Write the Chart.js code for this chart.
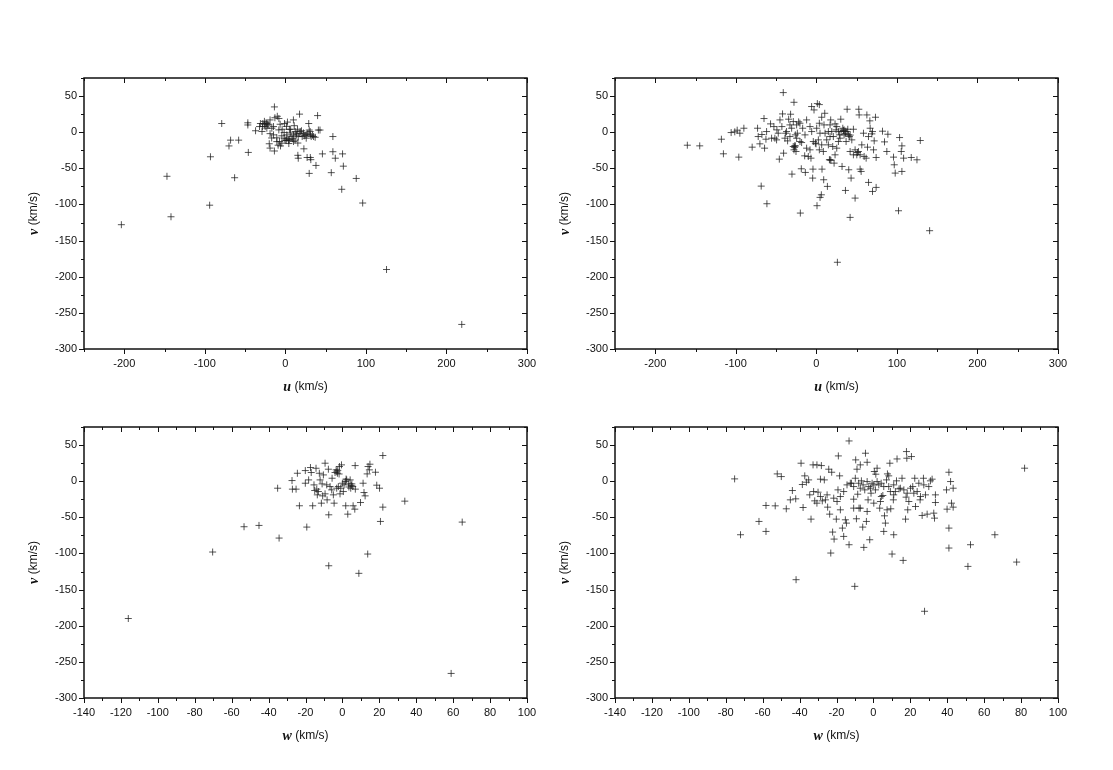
<!DOCTYPE html>
<html>
<head>
<meta charset="utf-8">
<script src="https://cdn.jsdelivr.net/npm/chart.js@4.4.1/dist/chart.umd.min.js"></script>
<style>
  body { margin: 0; background: #fff; }
  #wrap { position: relative; width: 1113px; height: 770px; }
  .panel { position: absolute; width: 556px; height: 370px; }
</style>
</head>
<body>
<div id="wrap">
  <div class="panel" style="left:0px;top:40px"><canvas id="c1"></canvas></div>
  <div class="panel" style="left:531px;top:40px"><canvas id="c2"></canvas></div>
  <div class="panel" style="left:0px;top:389px"><canvas id="c3"></canvas></div>
  <div class="panel" style="left:531px;top:389px"><canvas id="c4"></canvas></div>
</div>
<script>
// axis ticks
var uTicks = [-200, -100, 0, 100, 200, 300]
var wTicks = [-140, -120, -100, -80, -60, -40, -20, 0, 20, 40, 60, 80, 100]
var vTicks = [50, 0, -50, -100, -150, -200, -250, -300]

// top left: u vs v (sample 1)
var u1 = [-203.6, -147, -142, -94, -93, -63, -79, -68, -58, -70, -46.6, -46.6, -46, -37, -31, -28, -26, -23, -20.5, -19,
  -13.6, -13, -10, -8, -6.5, -29, -19, -17, -20, -19, -13.6, -10.6, -9, -6, -4.4, -1, 1.4, 2.6, 10, 11,
  17.6, 6.5, 6, 5, -0.3, 2, 5, 9, 12, 14, 16, 18, 20, 22.5, 24.6, 26.7, 29, 29.6, 31, 35,
  37, 41, 40, 43, 15.5, 15.5, 16, 23, 27, 31, 31.6, 29.6, 38, 46, 59, 59, 62, 71, 72, 57,
  70, 88, 96, 125.6, 219, -7.3, -4.4, -1.5, 1, 3.9, 7.2, 10.1, 12.2, 13.4, 15.1, 18.4, 20.9, 23.4, 25.9, 27.9,
  30.8, 32.1, 33.7, 10.1, 4.3, -10.6, -14.7, -8.1, -4, -1.5, 1.8, -23, -25.1, -28.4, -32.1, -16.8, -14.7, -24, -22, -26]
var v1 = [-128, -61, -117, -101, -34, -63, 12, -11, -11, -19, 13, 10, -28, 2, 12, 12, 15, 12, 11, 17,
  35, 20, 22, 19, 11, 1, -2, -8, -16, -22, -26, -13, -18, -19, -5, 12, 8, 14, 17, 9,
  25, 4, -1, 4, -11, -9, -10, -9, -11, -4, -6, -2, 2, -1, -4, -3, 12, 3, -4, -6,
  -7, 3, 23, 3, -15, -32, -36, -23, -35, -35, -38, -57, -46, -30, -6, -27, -36, -30, -47, -56,
  -79, -64, -98, -190, -266, -12.9, -15.2, -8.3, -11.5, -11.5, -6, -3.7, 0.9, -1.4, 4.1, 0.9, -6, -5.1, -8.3, -1.4,
  0.9, -6, -4.1, -12.9, -15.7, -7.8, -3.7, 3.2, 4.1, -0.5, -3.7, 5.5, 7.8, 7.8, 7.8, 5.5, 7.8, 13, 10, 11]

// top right: u vs v (sample 2)
var u2 = [-160.2, -144.8, -117.9, -115.4, -105.8, -101.3, -98.3, -95, -90, -96.3, -79.7, -73, -72.2, -70.1, -67.6, -65, -64.3, -62.6, -61.8, -68.5,
  -61.4, -56.9, -52.7, -51.5, -49, -46, -45.2, -42.8, -42, -41.1, -40.7, -38.2, -35.7, -34.4, -32, -30.3, -28.6, -27.8, -27, -26.1,
  -25.3, -23.6, -22, -20.3, -18.7, -17, -14.5, -13.7, -19.9, -6.7, -5.9, -4.6, -4.2, -2.9, -1.2, 0.4, 1.2, 3.7, 3.7, 4.6,
  0.8, 6.2, 7, 9.1, 10.4, 12.8, 13.7, 16.2, 17.8, 21.1, 22, 23.2, 24.5, 26.1, 27.4, 29.4, 30.3, 31.9, 32.8, 34.4,
  36.1, 38.2, 40.2, 41.9, 41.9, 43.1, 46, 48.1, 51, 52.7, 53.1, 54.3, 55.6, 58.5, 61.8, 62.7, 63.5, 64.8, 66.4, 69.7,
  69.7, 71.8, 73.4, 74.2, 74.2, 82.1, 84.6, 87.5, 88.8, 95.8, 96.7, 97.9, 102, 103.3, 105.4, 106.2, 106.2, 108.3, 117.8, 124.9,
  129, 140.6, -55.6, -49.4, -47.3, -39, -37, -32.8, -28.7, -27.8, -24.5, -18.3, -14.1, -12.1, -10, -7.9, -5.8, -3.8, -0.4, 2.5,
  4.5, 6.6, 8.7, 10.8, 14.9, 17, 19.1, 20.3, 23.2, 25.3, 27.4, 28.6, 30.7, 33.6, 35.7, 36.9, 39, 39.8, 41, 44,
  46, 48.1, 50.2, 52.2, 54.3, 56.4, 59.3, 64.7, 66.8, 68.9, 71, -32.8, -30.7, -24.5, -20.4, -12.1, -7.9, 3.7, 6.6, 9.5,
  14.9, 17, 25.3, 34.4, -27, -26, 17, 18, 36, 38, 42]
var v2 = [-18, -18.9, -9.7, -29.9, -0.5, 0.5, 2.8, -1.4, 5.5, -34.5, -20.7, 5.5, -6, -16.1, -3.2, 18.9, -22.1, -9.7, 0.9, -74.6,
  -99, 11.5, 7.8, -8.3, 3.2, -37.3, 17, 7.8, 25.3, 54.8, -29, -1.4, -12, 18, 24.9, -58, 14.7, 41.4, -18.9, -3.7,
  -26.7, -1.4, 14.3, -12.9, -50.6, 5.5, -32.7, -55.7, -111.9, -35.9, 35.5, -63.5, -51.1, 30.8, -15.2, 5.5, 39.6, 38.2, -24.4, -90.2,
  -101.7, -86.6, -51.1, -65.8, 26.2, -10.6, -75, -38.2, 17, -6, -42.8, 11.5, 3.2, -180, -12.9, -8.3, 18, -47.4, 5.5, -3.7,
  -80.6, 31.8, -52, -26.7, -117.9, -63.5, 4.1, -91.2, -28.1, 31.8, 23.9, -51.1, -54.3, -1.4, -35.9, 23.9, -20.7, -69.5, 15.7, 0.9,
  -82, -12, 20.7, -76.4, -35, 1.4, -13.4, -26.7, -2.8, -34.5, -45.1, -56.6, -108.7, -7.4, -26.7, -18.9, -54.3, -35.9, -35, -38.2,
  -11.5, -136.3, -8.3, -10.6, -1.4, -8.3, 0.9, -6, -19.8, -24.4, -8.3, -14.3, -3.7, -22.1, -33.6, -24.4, 0.9, -12.9, -16.1, -10.6,
  -1.4, -17.5, -26.7, -1.4, -17.5, -6, 0.9, -19.8, -31.3, -22.1, 0.9, -3.7, 0.9, 2.3, 0.9, -12.9, 4.1, -3.7, -6, -10.6,
  -31.3, -24.4, -31.3, -26.7, -31.3, -17.5, -33.6, -6, 5.5, -2.3, -24.4, 10.1, 5.5, 10.1, 12.4, 17, 7.8, 12.4, 20.7, 10.1,
  0.9, 10.1, 7.8, 3.2, -21, -19, -38, -39, -2, 1, -4]

// bottom left: w vs v (sample 1)
var w3 = [-116, -70.3, -53.3, -45.2, -34.3, -19.3, -7.4, 8.9, 13.7, 64.9, 58.9, 33.8, 21.9, 20.6, 21.9, -35.1, -27.3, -27.1, -25.1, -24.4,
  -23.3, -20.1, -20.1, -18.3, -17.3, -16.9, -16.1, -15, -14.3, -13.9, -13.6, -12.5, -11.4, -11, -10.3, -9.4, -9.4, -8.3, -7.6, -7.4,
  -6.7, -5.6, -4.5, -4, -3.4, -3.1, -2.7, -1.6, -1.3, -0.5, 0, 0.5, 1.6, 1.8, 2.3, 2.9, 3.4, 4.2, 5.1, 5.8,
  6.7, 6.9, 7, 9.8, 11.2, 11.7, 13.4, 13.9, 14.6, 14.9, 17.9, 18.6, 20.1, 12.3, -12.1, -8.5, -5.8, -4.9, -2.2, -0.9,
  0.9, 4.5, 5.6, -15.4, -13, -10.7, -3, -2.5, 3.5, 4.8, -1.8, 2]
var v3 = [-190, -98, -63, -61.2, -78.7, -63.5, -117, -127.5, -100.8, -56.6, -266, -27.6, 35.5, -55.7, -35.9, -9.7, 0.9, -11, -11, 11,
  -34, 14.7, -2.8, 1.8, 18.9, 12, -34, -12.9, 17.9, -11, -18.9, 11, -30.4, -3.7, 8.7, 24.9, -17.5, -25.8, 16.6, -46.5,
  -7.4, 4.1, -30.4, 12, 15.7, -9.7, 11, 20.3, -17.5, 22.6, -2.8, -14.3, -0.5, -34, 1.8, -45.6, -3.7, 1.8, -3.7, -34,
  -38.7, 21.6, -11, -29.5, -2.8, -15.7, 10.1, 20.3, 15.7, 23.5, 12.4, -5.5, -9.7, -20.3, 1.8, -5.1, -12, -18.9, -7.4, -9.7,
  -5.1, -9.7, -7.4, -5.1, -14.3, -20.3, 13, 15, -8, -6, 10, 3]

// bottom right: w vs v (sample 2)
var w4 = [-75.2, -72, -62, -58.2, -58.2, -53.2, -52.1, -49.9, -47.2, -45, -43.9, -42.1, -41.9, -39.2, -38.5, -38.1, -37.2, -36.3, -35.1, -34.5,
  -33.8, -32.7, -31.8, -30.6, -30, -28.7, -28.2, -27.7, -26.6, -24.8, -24.2, -23.7, -23.1, -22.6, -22.1, -21.3, -20.1, -19.2, -19, -18.3,
  -17.9, -16.8, -16.1, -15.2, -14.6, -13.2, -13.2, -11.9, -10.7, -10.1, -9.6, -9.2, -8.9, -8.5, -7.8, -7.1, -6.5, -5.8, -5.2, -4.3,
  -3.8, -3.4, -2.9, -2, -1.3, -0.7, 0.5, 1.3, 2, 3.4, 4.3, 5.1, 5.6, 6, 6.5, 7.6, 8.3, 8.9, 9.4, 10.1,
  10.8, 11, 12.5, 12.8, 13.9, 15.5, 16.1, 17.4, 17.7, 17.9, 18.1, 18.6, 19.2, 20.6, 21.3, 22.4, 22.8, 24.6, 25.3, 26.4,
  27.1, 27.7, 28.2, 29.1, 30, 30.9, 31.8, 32.7, 33.1, 33.6, 33.6, 39.6, 39.9, 40.9, 40.9, 40.9, 41.8, 42.3, 43.2, 43.2,
  51.2, 52.6, 65.8, 77.6, 81.9, -12.5, -10.7, -9.8, -8, -7.1, -5.6, -4.7, -3.4, -2.5, -1.6, 0.2, 1.1, 2, 2.9, 4.2,
  5.6, 7.1, 8.3, 9.2, 11, 11.9, 14.6, 16.5, 18.3, 20.1, 21.9, 23.7, 25.5, 27.3, -17.9, -16.1, -14.3, -21.5, -25.1, -26,
  -28.7, -30.6, -32.4, -19.7, -10.7, -7.1, -3.4, 0.2, 3.8, 7.4, 11]
var v4 = [3.2, -74.1, -55.7, -33.6, -69.5, -34.1, 10.1, 6.4, -38.2, -25.8, -12.9, -24.4, -136.3, 24.9, -4.6, -36.4, 7.4, -1.4, 1.8, -18.9,
  -52.5, 22.6, -27.2, 22.6, -15.2, 2.8, 21.6, -27.2, 1.8, -35.9, 16.6, -45.6, -99.4, 12.4, -70.4, -80.1, -52.5, -12, 35, 7.4,
  -39.6, -64.9, -76.4, -53.4, -58, -87.9, 55.7, -2.8, -24.9, -145.5, 29.5, -52, 16.6, -18, -37.3, 22.6, 0.5, -63.5, -91.6, 38.7,
  -55.7, 26.2, -25.8, -81, -16.6, -2.8, 13.4, 9.7, 18, -37.3, -21.2, -19.8, -69.5, -47.9, -58, 10.1, 7.4, 24.9, -38.2, -100.8,
  -25.8, -74.1, 0.5, 30.8, -10.6, 4.1, -109.6, -52.5, -22.1, 41, 31.8, -39.6, -28.1, 34.1, -7.4, 4.1, -35, -2.8, -25.8, -47.4,
  4.1, -180, -18.9, -45.6, -7.4, 0.5, 2.8, -44.2, -51.1, -29.5, -18.9, -12, -38.7, 12.4, -64.9, -92.5, -0.5, -30.4, -9.7, -35.9,
  -117.9, -87.9, -74.1, -111.9, 18, -2.8, -7.4, 4.1, -2.8, -9.7, -5.1, -12, -0.5, -7.4, -9.7, -5.1, -12, -0.5, -5.1, -2.8,
  -7.4, 1.8, -7.4, -14.3, -5.1, -14.3, -9.7, -12, -16.6, -9.7, -16.6, -14.3, -21.2, -5.1, -21.2, -14.3, -5.1, -23.5, -18.9, -25.8,
  -21.2, -30.4, -14.3, -28.1, -37.3, -37.3, -41.9, -30.4, -28.1, -39.6, -18.9]

function zip(xs, ys) {
  var pts = []
  for (var i = 0; i < xs.length; i++) pts.push({x: xs[i], y: ys[i]})
  return pts
}

// frame, inward/outward ticks with minor ticks, and mixed-font axis titles
var framePlugin = {
  id: 'frame',
  afterDraw: function(chart) {
    var o = chart.options.plugins.frame
    var ctx = chart.ctx, a = chart.chartArea
    var xs = chart.scales.x, ys = chart.scales.y
    ctx.save()
    ctx.strokeStyle = '#111'
    ctx.lineWidth = 1.5
    ctx.strokeRect(a.left, a.top, a.right - a.left, a.bottom - a.top)
    ctx.lineWidth = 1
    ctx.beginPath()
    for (var v = xs.min; v <= xs.max + 1e-9; v += o.xMinor) {
      var px = Math.round(xs.getPixelForValue(v)) + 0.5
      var major = Math.abs(Math.round(v / o.xMajor) * o.xMajor - v) < 1e-6
      var len = major ? 5 : 3
      ctx.moveTo(px, a.bottom); ctx.lineTo(px, a.bottom + len)
      ctx.moveTo(px, a.top); ctx.lineTo(px, a.top + len)
    }
    for (var w = ys.min; w <= ys.max + 1e-9; w += o.yMinor) {
      var py = Math.round(ys.getPixelForValue(w)) + 0.5
      var majorY = Math.abs(Math.round(w / o.yMajor) * o.yMajor - w) < 1e-6
      var lenY = majorY ? 5 : 3
      ctx.moveTo(a.left, py); ctx.lineTo(a.left - lenY, py)
      ctx.moveTo(a.right, py); ctx.lineTo(a.right - lenY, py)
    }
    ctx.stroke()

    ctx.fillStyle = '#111'
    ctx.textBaseline = 'middle'
    function title(sym, rest, cx, cy, rot) {
      ctx.save()
      ctx.translate(cx, cy)
      ctx.rotate(rot)
      ctx.font = 'bold italic 14px "Liberation Serif", serif'
      var w1 = ctx.measureText(sym + ' ').width
      ctx.font = '12px "Liberation Sans", Arial, sans-serif'
      var w2 = ctx.measureText(rest).width
      var x0 = -(w1 + w2) / 2
      ctx.textAlign = 'left'
      ctx.font = 'bold italic 14px "Liberation Serif", serif'
      ctx.fillText(sym, x0, 0)
      ctx.font = '12px "Liberation Sans", Arial, sans-serif'
      ctx.fillText(rest, x0 + w1, 0)
      ctx.restore()
    }
    title(o.xSym, '(km/s)', (a.left + a.right) / 2, a.bottom + 38, 0)
    title('v', '(km/s)', a.left - 50, (a.top + a.bottom) / 2, -Math.PI / 2)
    ctx.restore()
  }
}

function makeChart(id, xs, ys, xMin, xMax, xTicks, xMinor, xMajor, xSym) {
  return new Chart(document.getElementById(id), {
    type: 'scatter',
    data: {
      datasets: [{
        data: zip(xs, ys),
        pointStyle: 'cross',
        radius: 3.5,
        borderWidth: 1,
        borderColor: 'rgba(30,30,30,0.75)',
        backgroundColor: 'rgba(30,30,30,0.75)'
      }]
    },
    options: {
      responsive: true,
      maintainAspectRatio: false,
      animation: false,
      layout: {padding: {left: 0, right: 29, top: 38, bottom: 0}},
      plugins: {
        legend: {display: false},
        tooltip: {enabled: false},
        frame: {xMinor: xMinor, xMajor: xMajor, yMinor: 25, yMajor: 50, xSym: xSym}
      },
      scales: {
        x: {
          type: 'linear', min: xMin, max: xMax,
          grid: {display: false, drawTicks: false},
          border: {display: false},
          afterBuildTicks: function(s) { s.ticks = xTicks.map(function(t) { return {value: t} }) },
          afterFit: function(s) { s.height = 61 },
          ticks: {color: '#111', padding: 8, maxRotation: 0, autoSkip: false,
            font: {family: '"Liberation Sans", Arial, sans-serif', size: 11}}
        },
        y: {
          type: 'linear', min: -300, max: 75,
          grid: {display: false, drawTicks: false},
          border: {display: false},
          afterBuildTicks: function(s) { s.ticks = vTicks.map(function(t) { return {value: t} }) },
          afterFit: function(s) { s.width = 84 },
          ticks: {color: '#111', padding: 7, autoSkip: false,
            font: {family: '"Liberation Sans", Arial, sans-serif', size: 11}}
        }
      }
    },
    plugins: [framePlugin]
  })
}

makeChart('c1', u1, v1, -250, 300, uTicks, 50, 100, 'u')
makeChart('c2', u2, v2, -250, 300, uTicks, 50, 100, 'u')
makeChart('c3', w3, v3, -140, 100, wTicks, 10, 20, 'w')
makeChart('c4', w4, v4, -140, 100, wTicks, 10, 20, 'w')
</script>
</body>
</html>
